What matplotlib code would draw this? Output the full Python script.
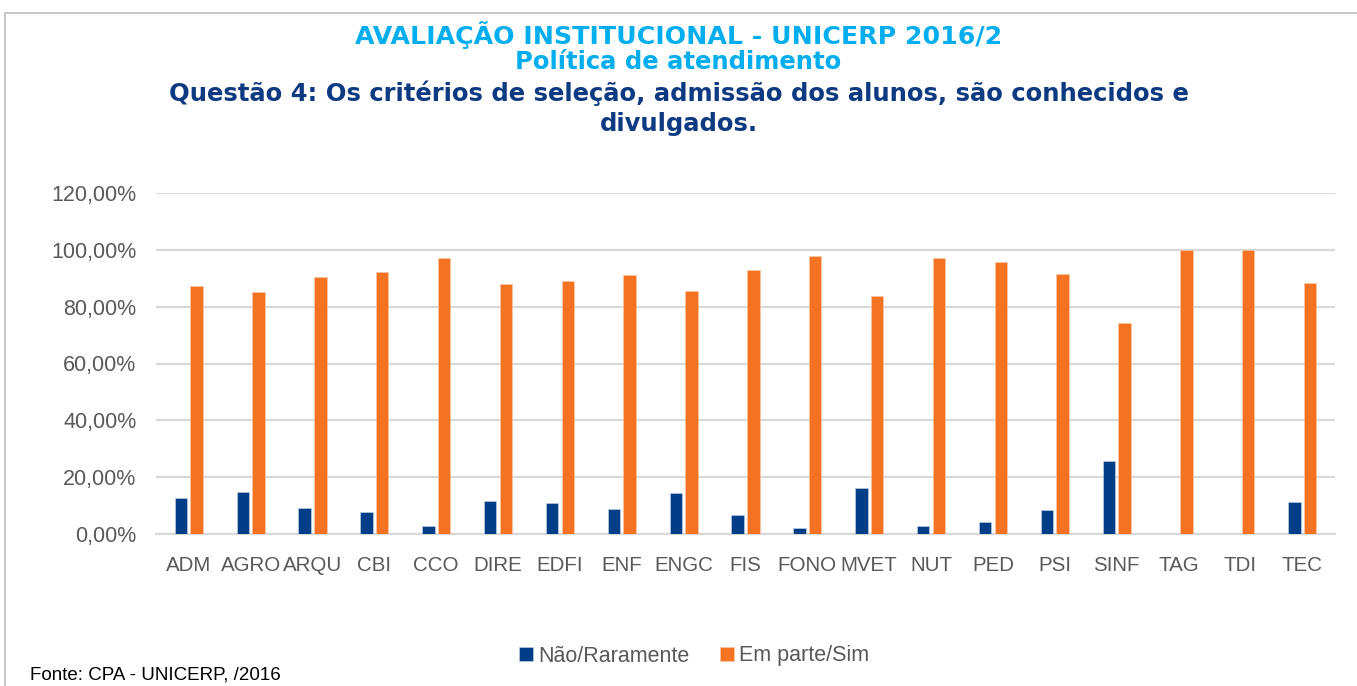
import numpy as np
import matplotlib.pyplot as plt
from matplotlib import ticker as tick
from matplotlib.patches import Rectangle

#dados
cursos = ['ADM', 'AGRO', 'ARQU', 'CBI', 'CCO', 'DIRE', 'EDFI', 'ENF', 'ENGC', 'FIS',
          'FONO', 'MVET', 'NUT', 'PED', 'PSI', 'SINF', 'TAG', 'TDI', 'TEC']
naoRaramente = [12.5, 14.9, 9.3, 7.7, 2.8, 11.7, 10.9, 8.8, 14.4, 6.8,
                2.2, 16.1, 2.8, 4.3, 8.5, 25.8, 0, 0, 11.4]
emParteSim = [87.4, 85.0, 90.6, 92.1, 97.2, 88.0, 89.1, 91.0, 85.4, 92.9,
              97.7, 83.9, 97.2, 95.7, 91.4, 74.1, 100, 100, 88.5]

azul = '#023E87'
laranja = '#F47322'
cinza = '#595959'
ciano = '#00AEEF'
azulTitulo = '#0D3A80'

fig = plt.figure(figsize=(13.57, 6.86), dpi=100)
ax = fig.add_axes([156/1357, 1-534/686, (1335-156)/1357, (534-193)/686])

x = np.arange(len(cursos))
ax.bar(x - 0.127, naoRaramente, 0.2, color=azul, edgecolor='#c8d4e8', linewidth=0.4,
       label='Não/Raramente', zorder=3)
ax.bar(x + 0.127, emParteSim, 0.2, color=laranja, edgecolor='#f9c9a8', linewidth=0.4,
       label='Em parte/Sim', zorder=3)

ax.set_xlim(-0.53, len(cursos) - 0.47)
ax.set_ylim(0, 120)
ax.set_yticks(np.arange(0, 121, 20))
ax.yaxis.set_major_formatter(tick.FuncFormatter(lambda v, p: ('%.2f%%' % v).replace('.', ',')))
ax.set_xticks(x)
ax.set_xticklabels(cursos)
ax.grid(axis='y', color='#D9D9D9', linewidth=1.6, zorder=0)
for s in ['top', 'right', 'left']:
    ax.spines[s].set_visible(False)
ax.spines['bottom'].set_color('#D9D9D9')
ax.spines['bottom'].set_linewidth(1.6)
ax.tick_params(axis='y', length=0, labelsize=15.5, labelcolor=cinza, labelfontfamily='Liberation Sans', pad=14)
ax.tick_params(axis='x', length=0, labelsize=14.8, labelcolor=cinza, labelfontfamily='Liberation Sans', pad=16)

#titulos
fig.text(0.5, 1-35/686, 'AVALIAÇÃO INSTITUCIONAL - UNICERP 2016/2', ha='center', va='center',
         fontsize=18.2, fontweight='bold', color=ciano, family='DejaVu Sans')
fig.text(0.5, 1-62/686, 'Política de atendimento', ha='center', va='center',
         fontsize=17.5, fontweight='bold', color=ciano, family='DejaVu Sans')
fig.text(0.5, 1-93/686, 'Questão 4: Os critérios de seleção, admissão dos alunos, são conhecidos e',
         ha='center', va='center', fontsize=17.5, fontweight='bold', color=azulTitulo, family='DejaVu Sans')
fig.text(0.5, 1-124/686, 'divulgados.', ha='center', va='center',
         fontsize=17.5, fontweight='bold', color=azulTitulo, family='DejaVu Sans')

#legenda
leg = fig.legend(loc='center', bbox_to_anchor=(694/1357, 1-656/686), ncol=2, frameon=False,
                 prop={'family': 'Liberation Sans', 'size': 15.5}, handlelength=0.65, handleheight=0.65,
                 handletextpad=0.25, columnspacing=1.4)
for t in leg.get_texts():
    t.set_color(cinza)

fig.text(30/1357, 1-675/686, 'Fonte: CPA - UNICERP, /2016', ha='left', va='center',
         fontsize=13.5, color='black', family='Liberation Sans')

#moldura
fig.patches.append(Rectangle((5/1357, -0.1), 1.2, 1.1 - 13/686, transform=fig.transFigure,
                             fill=False, edgecolor='#BFBFBF', linewidth=1.2))

fig.savefig('out.png', dpi=100)
